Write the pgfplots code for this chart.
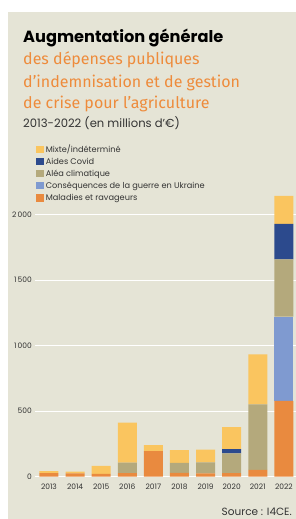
\documentclass[border=0pt]{standalone}
\usepackage{pgfplots}
\pgfplotsset{compat=1.18}
\usepackage{pgfplotstable}
\usepackage{fontspec}
\setmainfont{Poppins}
\newfontfamily\orangefont{Fira Sans}
\definecolor{bg}{HTML}{E5E4D6}
\definecolor{cmixte}{HTML}{FAC55F}
\definecolor{ccovid}{HTML}{2C4A8D}
\definecolor{calea}{HTML}{B4A97C}
\definecolor{cukr}{HTML}{7F9AD0}
\definecolor{cmal}{HTML}{E98A3F}
\definecolor{ctitle}{HTML}{EE8B3B}
\definecolor{ctext}{HTML}{333333}

\pgfplotstableread{
year maladies ukraine alea covid mixte
2013 28 0 0 0 15
2014 25 0 0 0 13
2015 22 0 0 0 60
2016 28 0 80 0 304
2017 196 0 0 0 45
2018 30 0 75 0 98
2019 25 0 85 0 96
2020 28 0 150 33 168
2021 53 0 499 0 382
2022 579 643 436 271 214
}\data

\begin{document}
\begin{tikzpicture}
\path[use as bounding box, fill=white] (0pt,0pt) rectangle (296pt,519pt);
\fill[bg] (8pt,0pt) rectangle (296pt,507pt);
\node[anchor=base west, inner sep=0pt, font=\fontsize{16.2}{18}\selectfont\bfseries] at (23pt,476.3pt) {Augmentation générale};
\node[anchor=base west, inner sep=0pt, text=ctitle, font=\orangefont\fontsize{16}{18}\selectfont] at (23pt,454pt) {des dépenses publiques};
\node[anchor=base west, inner sep=0pt, text=ctitle, font=\orangefont\fontsize{16}{18}\selectfont] at (23pt,431.7pt) {d’indemnisation et de gestion};
\node[anchor=base west, inner sep=0pt, text=ctitle, font=\orangefont\fontsize{16}{18}\selectfont] at (23pt,410pt) {de crise pour l’agriculture};
\node[anchor=base west, inner sep=0pt, text=ctext, font=\fontsize{11.6}{13}\selectfont] at (23pt,391pt) {2013-2022 (en millions d’€)};
\node[anchor=base east, inner sep=0pt, text=ctext, font=\fontsize{10.5}{12}\selectfont] at (292pt,3pt) {Source : I4CE.};
\begin{axis}[
  at={(35pt,42.3pt)}, anchor=south west,
  scale only axis, width=261pt, height=288.4pt,
  xmin=2012.464, xmax=2022.464, ymin=0, ymax=2200,
  ybar stacked, bar width=19pt,
  axis line style={draw=none},
  major tick length=0pt,
  ytick={0,500,1000,1500,2000},
  yticklabels={0,500,1\,000,1\,500,2\,000},
  xtick={2013,2014,2015,2016,2017,2018,2019,2020,2021,2022},
  xticklabels={2013,2014,2015,2016,2017,2018,2019,2020,2021,2022},
  ymajorgrids, grid style={white, line width=0.8pt},
  yticklabel style={font=\fontsize{7.5}{9}\selectfont, text=ctext, inner sep=0pt, xshift=-3pt},
  xticklabel style={font=\fontsize{7.5}{9}\selectfont, text=ctext, inner sep=0pt, yshift=-7pt},
  reverse legend,
  legend cell align=left,
  legend image code/.code={\fill[#1] (0pt,-3.6pt) rectangle (7.5pt,3.9pt);},
  legend style={at={(0.004,1.1536)}, anchor=north west, draw=none, fill=none,
    font=\fontsize{8.2}{10}\selectfont, text=ctext, inner sep=0pt, row sep=1.5pt,
    nodes={inner sep=0.6pt, text height=7.2pt, text depth=2.2pt},
    /tikz/every odd column/.append style={column sep=1.5pt}},
]
\addplot[fill=cmal, draw=none] table[x=year, y=maladies] {\data};
\addlegendentry{Maladies et ravageurs}
\addplot[fill=cukr, draw=none] table[x=year, y=ukraine] {\data};
\addlegendentry{Conséquences de la guerre en Ukraine}
\addplot[fill=calea, draw=none] table[x=year, y=alea] {\data};
\addlegendentry{Aléa climatique}
\addplot[fill=ccovid, draw=none] table[x=year, y=covid] {\data};
\addlegendentry{Aides Covid}
\addplot[fill=cmixte, draw=none] table[x=year, y=mixte] {\data};
\addlegendentry{Mixte/indéterminé}
\end{axis}
\end{tikzpicture}
\end{document}
